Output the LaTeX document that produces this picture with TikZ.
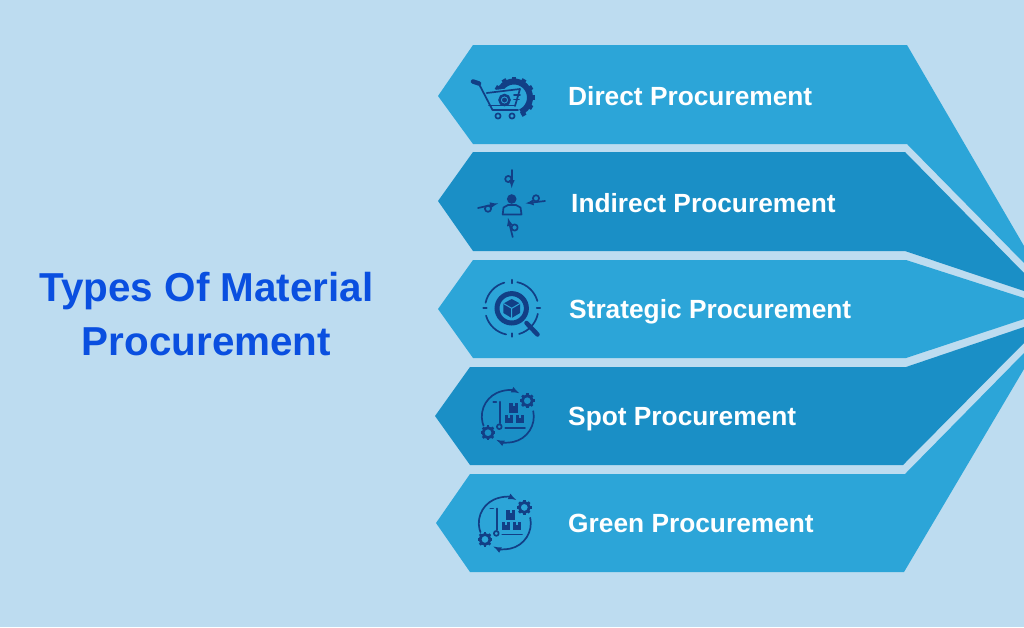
\documentclass[tikz,border=0pt]{standalone}
\usepackage{fontspec}
\setmainfont{Liberation Sans}
\definecolor{pagebg}{HTML}{BDDCF0}
\definecolor{bandlight}{HTML}{2CA5D8}
\definecolor{banddark}{HTML}{1A8FC6}
\definecolor{icondark}{HTML}{123F86}
\definecolor{titleblue}{HTML}{0A4FE0}
\tikzset{
  bandlabel/.style={anchor=base west,text=white,font=\bfseries\fontsize{26.3}{28}\selectfont,inner sep=0pt},
  titlelabel/.style={text=titleblue,font=\bfseries\fontsize{40.4}{53.3}\selectfont,align=center,inner sep=0pt},
  iconline/.style={draw=icondark,line width=1.7pt,line cap=round,line join=round}
}
\begin{document}
\begin{tikzpicture}[x=1pt,y=-1pt]
  \fill[pagebg] (0,0) rectangle (1024,627);
  \useasboundingbox (0,0) rectangle (1024,627);

  % Title
  \node[titlelabel] (title) at (206.5,314) {Types Of Material\\Procurement};

  %% Bands
  \foreach \Bcol/\Lx/\Tipx/\Tipy/\Ta/\Tb/\Ra/\Rb/\Ba/\Bb in {
    bandlight/473/438/96/45/907/246/263/144/907,
    banddark/473/438/201/152/905/273/291/251/905,
    bandlight/473/438/309/260/906/298/319/358/906,
    banddark/470/435/416/367/906/327/343/465/903,
    bandlight/470/436/523/474/905/353/369/572/904
  }{
    \fill[\Bcol] (\Tipx,\Tipy) -- (\Lx,\Ta) -- (\Tb,\Ta) -- (1024,\Ra) -- (1024,\Rb)
      -- (\Bb,\Ba) -- (\Lx,\Ba) -- cycle;
  }

  %% Icon 1: cart and gear
  % Gear crescent
  \draw[icondark,line width=6pt] (514,97.5) ++(65:16) arc[start angle=65,end angle=-175,radius=16];
  \foreach \a in {60,30,0,-30,-60,-90,-120,-150} {
    \draw[icondark,line width=4.5pt] (514,97.5) ++(\a:16) -- ++(\a:5);
  }
  % Cart
  \fill[bandlight] (486,91) -- (521,87) -- (516,108) -- (493,108) -- cycle;
  \draw[icondark,line width=4.5pt,line cap=round] (473,81.5) -- (479,83.5);
  \draw[iconline] (479,84) -- (492.5,110) -- (518,110);
  \draw[iconline] (486.7,93) -- (520,89) -- (515,106);
  \draw[iconline] (489,105.5) -- (515,105.5);
  \draw[icondark,line width=2.5pt] (504.5,100) circle (5);
  \fill[icondark] (504.5,100) circle (2.5);
  \draw[iconline] (514,95) -- (520,95) (514,99.5) -- (519,99.5);
  \draw[iconline] (498,116) circle (2.6) (512,116) circle (2.6);

  %% Icon 2: person with four arrows
  \fill[icondark] (511.7,199) circle (4.8);
  \draw[iconline] (502.7,214.5) -- (503.5,207.5) -- (508,205) -- (516,205) -- (520.5,207.5) -- (521.5,214.5) -- cycle;
  \foreach \Sx/\Sy/\Ex/\Ey/\Cx/\Cy in {
    511.7/170/511.7/188/508.3/179,
    478/208/498/203.5/488/208.7,
    545/201/525.7/203.3/536/198.3,
    512.7/237/508/218/514.6/227.5
  }{
    \draw[iconline,-latex] (\Sx,\Sy) -- (\Ex,\Ey);
    \draw[iconline] (\Cx,\Cy) circle (3.1);
  }

  %% Icon 3: magnifier and cube
  \foreach \a in {-78,12,102,192} {
    \draw[iconline] (511.7,308.3) ++(\a:26.7) arc[start angle=\a,end angle={\a+62},radius=26.7];
  }
  \foreach \a in {-90,0,90,180} {
    \draw[iconline] (511.7,308.3) ++(\a:25) -- ++(\a:3.5);
  }
  \draw[icondark,line width=5pt] (511.7,308.3) circle (14.7);
  \draw[icondark,line width=4.5pt,line cap=round] (526.5,323) -- (537.5,334.5);
  \fill[icondark] (511.7,299) -- (520,303.5) -- (520,313) -- (511.7,318) -- (503.4,313) -- (503.4,303.5) -- cycle;
  \draw[bandlight,line width=1pt] (503.4,303.5) -- (511.7,308.3) -- (520,303.5) (511.7,308.3) -- (511.7,318);

  %% Icon 4 and 5: trolley, boxes and gears
  \foreach \Ox/\Oy/\Ifill in {502.3/414.3/banddark, 499.3/521/bandlight} {
    \begin{scope}[shift={(\Ox,\Oy)}]
      % Loop arrows
      \draw[iconline,-latex] (5.5,2.2) ++(155:26) arc[start angle=155,end angle=296,radius=26];
      \draw[iconline,-latex] (5.5,2.2) ++(-12:26) arc[start angle=-12,end angle=116,radius=26];
      % Gears
      \foreach \Gx/\Gy/\Gr in {25/-13.6/5, -14.3/18.4/5} {
        \fill[\Ifill] (\Gx,\Gy) circle (8);
        \foreach \a in {0,45,...,315} {
          \draw[icondark,line width=2.6pt] (\Gx,\Gy) ++(\a:\Gr) -- ++(\a:2.4);
        }
        \draw[icondark,line width=2.8pt,fill=\Ifill] (\Gx,\Gy) circle (\Gr);
      }
      % Trolley
      \draw[iconline] (-9,-12.5) -- (-6,-12.5) (-2.3,-12.5) -- (-2.3,9);
      \draw[iconline] (-3,12.4) circle (2.4);
      \draw[iconline] (3,13.4) -- (22.7,13.4);
      % Boxes
      \foreach \Bx/\By/\Bw/\Bh in {2.7/0.7/8.3/8.3, 13.4/0.7/8.3/8.3, 7/-11/9/10} {
        \fill[icondark] (\Bx,\By) rectangle ++(\Bw,\Bh);
        \fill[\Ifill] (\Bx+0.5*\Bw-1.2,\By) rectangle ++(2.4,3);
      }
    \end{scope}
  }

  % Labels
  \node[bandlabel] (direct) at (568,105.5) {Direct Procurement};
  \node[bandlabel] (indirect) at (571,212.5) {Indirect Procurement};
  \node[bandlabel] (strategic) at (569,318.5) {Strategic Procurement};
  \node[bandlabel] (spot) at (568,425.5) {Spot Procurement};
  \node[bandlabel] (green) at (568,532.5) {Green Procurement};
\end{tikzpicture}
\end{document}
